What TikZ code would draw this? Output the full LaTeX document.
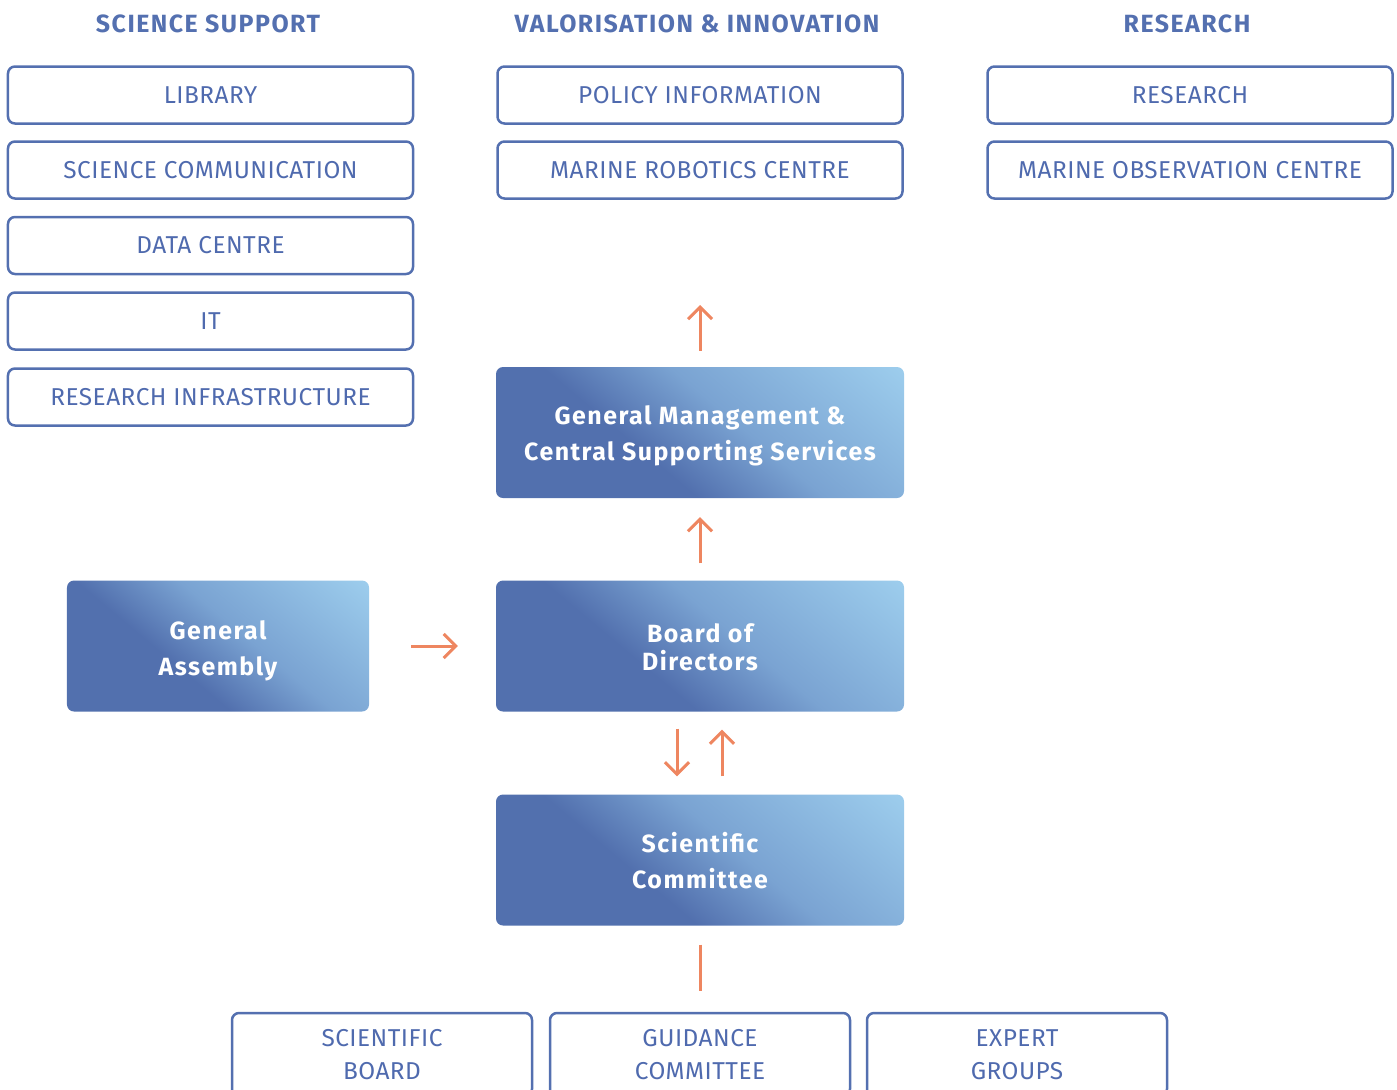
\documentclass[tikz,border=0pt]{standalone}
\usepackage{fontspec}
\setmainfont{Fira Sans}
\newfontfamily\regfam[LetterSpace=2]{Fira Sans}
\newfontfamily\boldfam[LetterSpace=6]{Fira Sans Bold}
\usetikzlibrary{arrows.meta}
\definecolor{bcol}{HTML}{5470B0}
\definecolor{tcol}{HTML}{4F6AAE}
\definecolor{dkb}{HTML}{5270AE}
\definecolor{mdb}{HTML}{7AA3D2}
\definecolor{ltb}{HTML}{AADDF7}
\definecolor{acol}{HTML}{EE8660}
\newcommand{\pushdn}[1]{\rule{0pt}{#1}}
\pgfdeclarehorizontalshading{gshade}{100bp}{color(0bp)=(dkb); color(40bp)=(dkb); color(56bp)=(mdb); color(96bp)=(ltb); color(100bp)=(ltb)}
\begin{document}
\begin{tikzpicture}[x=1bp,y=-1bp,
  obox/.style={draw=bcol, line width=2.5bp, rounded corners=7bp, minimum width=405bp, minimum height=57bp, inner sep=0pt, text=tcol, font=\regfam\fontsize{24.5}{33}\selectfont, align=center},
  bbox/.style={obox, minimum width=300bp, minimum height=83bp},
  head/.style={text=bcol, font=\boldfam\fontsize{25}{28}\selectfont, inner sep=0pt},
  gbox/.style={shade, shading=gshade, shading angle=50, rounded corners=7bp, minimum width=408bp, minimum height=131bp, inner sep=0pt, text=white, font=\boldfam\fontsize{25}{36}\selectfont, align=center},
  arr/.style={draw=acol, line width=3bp, -{Straight Barb[length=12bp,width=24bp,line width=3bp]}},
  ln/.style={draw=acol, line width=3bp}
]
\useasboundingbox (0,0) rectangle (1397,1089);
% headings
\node[head] (h1) at (208,24) {SCIENCE SUPPORT};
\node[head] (h2) at (697,24) {VALORISATION \& INNOVATION};
\node[head] (h3) at (1187,24) {RESEARCH};
% left column
\node[obox] (lib) at (210.5,95) {LIBRARY};
\node[obox] (scc) at (210.5,170) {SCIENCE COMMUNICATION};
\node[obox] (dc) at (210.5,245.5) {DATA CENTRE};
\node[obox] (it) at (210.5,321) {IT};
\node[obox] (ri) at (210.5,397) {RESEARCH INFRASTRUCTURE};
% middle column
\node[obox] (pi) at (700,95) {POLICY INFORMATION};
\node[obox] (mrc) at (700,170) {MARINE ROBOTICS CENTRE};
% right column
\node[obox] (res) at (1190,95) {RESEARCH};
\node[obox] (moc) at (1190,170) {MARINE OBSERVATION CENTRE};
% gradient boxes
\node[gbox] (gm) at (700,432.5) {\pushdn{26bp}General Management \&\\Central Supporting Services};
\node[gbox, font=\boldfam\fontsize{25}{28}\selectfont] (bd) at (700,646) {\pushdn{22bp}Board of\\Directors};
\node[gbox] (sc) at (700,860) {\pushdn{22bp}Scientific\\Committee};
\node[gbox, minimum width=302bp] (ga) at (218,646) {\pushdn{28bp}General\\Assembly};
% bottom boxes
\node[bbox] (sb) at (382,1054.5) {SCIENTIFIC\\BOARD};
\node[bbox] (gc) at (700,1054.5) {GUIDANCE\\COMMITTEE};
\node[bbox] (eg) at (1017,1054.5) {EXPERT\\GROUPS};
% connectors
\coordinate (top) at (700,305);
\draw[arr] ([yshift=16bp]gm.north) -- (top);
\draw[arr] ([yshift=17bp]bd.north) -- ([yshift=-19bp]gm.south);
\draw[arr] ([xshift=42bp]ga.east) -- ([xshift=-38bp]bd.west);
\draw[arr] ([xshift=-23bp,yshift=-17bp]bd.south) -- ([xshift=-23bp,yshift=18bp]sc.north);
\draw[arr] ([xshift=22bp,yshift=18bp]sc.north) -- ([xshift=22bp,yshift=-18bp]bd.south);
\draw[ln] ([yshift=-19bp]sc.south) -- ([yshift=21bp]gc.north);
\end{tikzpicture}
\end{document}
